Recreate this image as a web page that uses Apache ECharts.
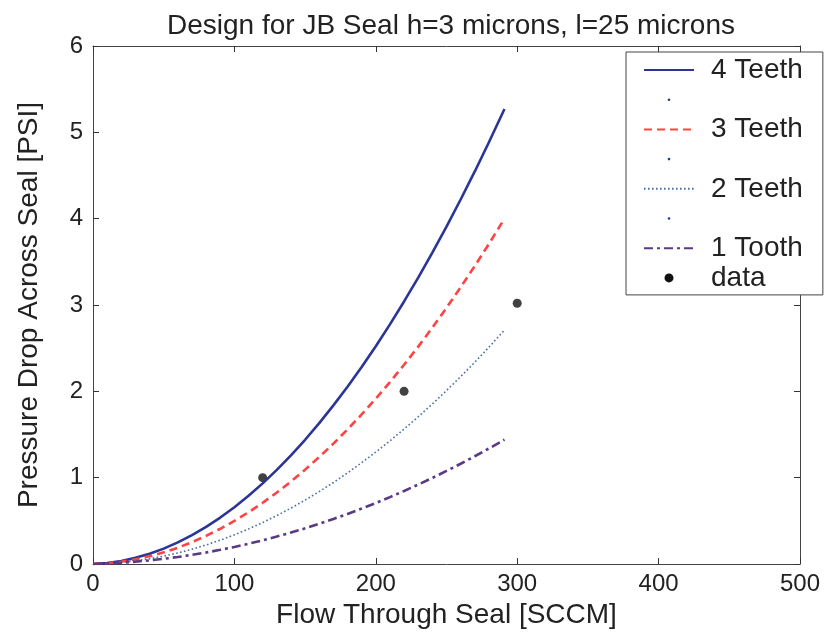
<!DOCTYPE html>
<html>
<head>
<meta charset="utf-8">
<script src="https://cdn.jsdelivr.net/npm/echarts@6/dist/echarts.min.js"></script>
<style>
html,body{margin:0;padding:0;background:#fff;}
#chart{width:832px;height:636px;}
</style>
</head>
<body>
<div id="chart"></div>
<script>
// Flow through seal [SCCM] sample positions
var flowX = [0,10,20,30,40,50,60,70,80,90,100,110,120,130,140,150,160,170,180,190,200,210,220,230,240,250,260,270,280,291];
// Pressure drop [PSI]
var teeth4 = [0,0.011,0.035,0.071,0.118,0.178,0.250,0.334,0.430,0.538,0.658,0.790,0.934,1.090,1.259,1.439,1.632,1.837,2.053,2.282,2.523,2.776,3.041,3.318,3.607,3.909,4.222,4.547,4.885,5.27];
var teeth3 = [0,0.009,0.027,0.054,0.090,0.135,0.189,0.253,0.326,0.408,0.499,0.600,0.709,0.828,0.955,1.093,1.239,1.394,1.559,1.732,1.915,2.107,2.308,2.518,2.738,2.967,3.205,3.452,3.708,4.00];
var teeth2 = [0,0.006,0.018,0.036,0.061,0.091,0.128,0.171,0.221,0.276,0.338,0.406,0.480,0.561,0.647,0.740,0.839,0.944,1.055,1.173,1.297,1.427,1.563,1.706,1.854,2.009,2.170,2.337,2.511,2.71];
var tooth1 = [0,0.006,0.015,0.027,0.042,0.060,0.081,0.106,0.133,0.164,0.198,0.234,0.275,0.318,0.364,0.413,0.466,0.521,0.580,0.642,0.706,0.775,0.846,0.920,0.997,1.078,1.161,1.248,1.338,1.44];
// Measured data points
var dataFlow = [120,220,300];
var dataPressure = [1.0,2.0,3.02];
// Axis ticks
var xTicks = [0,100,200,300,400,500];
var yTicks = [0,1,2,3,4,5,6];

function pairs(xs, ys){ return xs.map(function(x,i){ return [x, ys[i]]; }); }

var FONT = 'Liberation Sans';
var TXT = '#222';
var chart = echarts.init(document.getElementById('chart'), null, {renderer:'canvas'});
var axisLineStyle = {color:'#444', width:1};
var dotIcon = 'path://M0,0M50,0M50,14M0,14M25,7m-1.3,0a1.3,1.3 0 1,0 2.6,0a1.3,1.3 0 1,0 -2.6,0z';
var bigDotIcon = 'path://M0,0M50,0M50,14M0,14M25,7m-4.5,0a4.5,4.5 0 1,0 9,0a4.5,4.5 0 1,0 -9,0z';
var hideSym = {opacity:0};

function boxAxis(extra){
  return Object.assign({
    type:'value',
    axisLine:{show:true, onZero:false, lineStyle:axisLineStyle},
    axisTick:{show:true, inside:true, length:6, lineStyle:{color:'#333', width:1}},
    splitLine:{show:false}
  }, extra);
}

chart.setOption({
  animation:false,
  backgroundColor:'#fff',
  title:{
    text:'Design for JB Seal h=3 microns, l=25 microns',
    left:446, top:7, textAlign:'center',
    textStyle:{fontFamily:FONT, fontSize:28, fontWeight:'normal', color:TXT}
  },
  grid:{left:93, right:32, top:46, bottom:72, containLabel:false},
  xAxis:[
    boxAxis({min:xTicks[0], max:xTicks[xTicks.length-1], interval:100, position:'bottom',
      name:'Flow Through Seal [SCCM]', nameLocation:'middle', nameGap:37,
      nameTextStyle:{fontFamily:FONT, fontSize:28, color:TXT},
      axisLabel:{fontFamily:FONT, fontSize:24, color:TXT, margin:8}}),
    boxAxis({min:xTicks[0], max:xTicks[xTicks.length-1], interval:100, position:'top',
      axisLabel:{show:false}})
  ],
  yAxis:[
    boxAxis({min:yTicks[0], max:yTicks[yTicks.length-1], interval:1, position:'left',
      name:'Pressure Drop Across Seal [PSI]', nameLocation:'middle', nameGap:50,
      nameTextStyle:{fontFamily:FONT, fontSize:28, color:TXT},
      axisLabel:{fontFamily:FONT, fontSize:24, color:TXT, margin:10}}),
    boxAxis({min:yTicks[0], max:yTicks[yTicks.length-1], interval:1, position:'right',
      axisLabel:{show:false}})
  ],
  legend:{
    orient:'vertical', left:626, top:52,
    padding:[4,20,3,17], itemGap:1.7, itemWidth:50, itemHeight:14,
    backgroundColor:'#fff', borderColor:'#444', borderWidth:1,
    textStyle:{fontFamily:FONT, fontSize:28, color:TXT, padding:[0,0,0,12]},
    data:[
      {name:'4 Teeth', itemStyle:hideSym},
      {name:' ', icon:dotIcon, itemStyle:{color:'#2b3595', opacity:1}},
      {name:'3 Teeth', itemStyle:hideSym},
      {name:'  ', icon:dotIcon, itemStyle:{color:'#2b3595', opacity:1}},
      {name:'2 Teeth', itemStyle:hideSym},
      {name:'   ', icon:dotIcon, itemStyle:{color:'#2b3595', opacity:1}},
      {name:'1 Tooth', itemStyle:hideSym},
      {name:'data', icon:bigDotIcon, itemStyle:{color:'#111', opacity:1}}
    ]
  },
  series:[
    {name:'4 Teeth', type:'line', data:pairs(flowX, teeth4), symbol:'none',
      lineStyle:{color:'#2b3595', width:2.6, type:'solid'}, itemStyle:{color:'#2b3595'}},
    {name:' ', type:'line', data:[], symbol:'none', itemStyle:{color:'#2b3595'}},
    {name:'3 Teeth', type:'line', data:pairs(flowX, teeth3), symbol:'none',
      lineStyle:{color:'#ff4242', width:2.6, type:[8,5]}, itemStyle:{color:'#ff4242'}},
    {name:'  ', type:'line', data:[], symbol:'none', itemStyle:{color:'#2b3595'}},
    {name:'2 Teeth', type:'line', data:pairs(flowX, teeth2), symbol:'none',
      lineStyle:{color:'#4a6ea8', width:1.6, type:[1.6,2.4]}, itemStyle:{color:'#4a6ea8'}},
    {name:'   ', type:'line', data:[], symbol:'none', itemStyle:{color:'#2b3595'}},
    {name:'1 Tooth', type:'line', data:pairs(flowX, tooth1), symbol:'none',
      lineStyle:{color:'#5b3a84', width:2.6, type:[9,4,3,4]}, itemStyle:{color:'#5b3a84'}},
    {name:'data', type:'scatter', data:pairs(dataFlow, dataPressure), symbol:'circle', symbolSize:9,
      itemStyle:{color:'#111'}}
  ]
});
</script>
</body>
</html>
